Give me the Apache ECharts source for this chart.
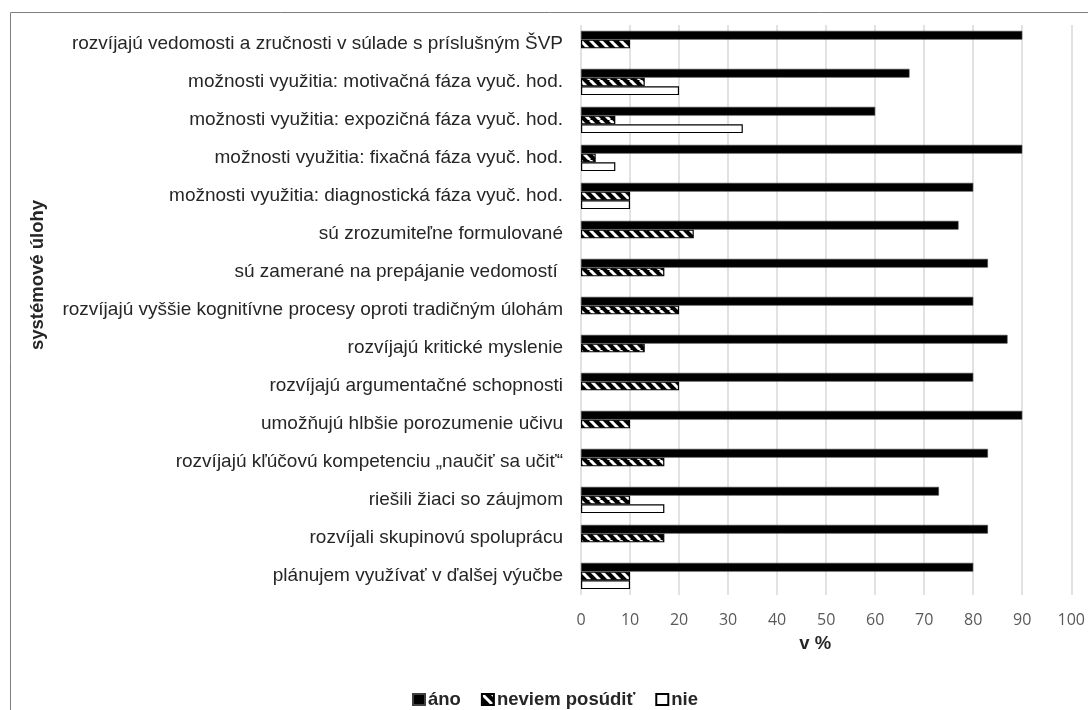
<!DOCTYPE html>
<html>
<head>
<meta charset="utf-8">
<script src="https://cdn.jsdelivr.net/npm/echarts@6/dist/echarts.min.js"></script>
<style>
  html, body { margin: 0; padding: 0; background: #fff; }
  #chart { width: 1088px; height: 710px; }
</style>
</head>
<body>
<div id="chart"></div>
<script>
// categories top to bottom
const categories = [
  'rozvíjajú vedomosti a zručnosti v súlade s príslušným ŠVP',
  'možnosti využitia: motivačná fáza vyuč. hod.',
  'možnosti využitia: expozičná fáza vyuč. hod.',
  'možnosti využitia: fixačná fáza vyuč. hod.',
  'možnosti využitia: diagnostická fáza vyuč. hod.',
  'sú zrozumiteľne formulované',
  'sú zamerané na prepájanie vedomostí ',
  'rozvíjajú vyššie kognitívne procesy oproti tradičným úlohám',
  'rozvíjajú kritické myslenie',
  'rozvíjajú argumentačné schopnosti',
  'umožňujú hlbšie porozumenie učivu',
  'rozvíjajú kľúčovú kompetenciu „naučiť sa učiť“',
  'riešili žiaci so záujmom',
  'rozvíjali skupinovú spoluprácu',
  'plánujem využívať v ďalšej výučbe'
]
const seriesNames = ['áno', 'neviem posúdiť', 'nie']
const ano = [90, 67, 60, 90, 80, 77, 83, 80, 87, 80, 90, 83, 73, 83, 80]
const neviem = [10, 13, 7, 3, 10, 23, 17, 20, 13, 20, 10, 17, 10, 17, 10]
const nie = [0, 20, 33, 7, 10, 0, 0, 0, 0, 0, 0, 0, 17, 0, 10]
const xTicks = [0, 10, 20, 30, 40, 50, 60, 70, 80, 90, 100]

// diagonal hatch for "neviem posúdiť"
function hatch() {
  const c = document.createElement('canvas')
  c.width = 10
  c.height = 10
  const ctx = c.getContext('2d')
  ctx.fillStyle = '#000'
  ctx.fillRect(0, 0, 10, 10)
  ctx.strokeStyle = '#fff'
  ctx.lineWidth = 3
  ctx.beginPath()
  for (let k = -10; k <= 10; k += 10) {
    ctx.moveTo(k, 0)
    ctx.lineTo(k + 10, 10)
  }
  ctx.stroke()
  return c
}

const skipZero = arr => arr.map(v => (v === 0 ? '-' : v))

const chart = echarts.init(document.getElementById('chart'))
chart.setOption({
  animation: false,
  textStyle: { fontFamily: 'Liberation Sans' },
  grid: { left: 581, right: 11, top: 25, bottom: 115 },
  graphic: [
    {
      type: 'rect',
      shape: { x: 10.5, y: 12.5, width: 1100, height: 720 },
      style: { fill: 'none', stroke: '#7f7f7f', lineWidth: 1 },
      silent: true
    },
    {
      type: 'text',
      x: 38,
      y: 275,
      rotation: Math.PI / 2,
      style: {
        text: 'systémové úlohy',
        font: 'bold 18.5px "Liberation Sans"',
        fill: '#262626',
        align: 'center',
        verticalAlign: 'middle'
      }
    }
  ],
  legend: {
    left: 407,
    top: 685,
    icon: 'rect',
    itemWidth: 12,
    itemHeight: 11,
    itemGap: 20,
    selectedMode: false,
    textStyle: { fontWeight: 'bold', fontSize: 18.5, color: '#262626', padding: [0, 0, 0, -2] },
    data: seriesNames
  },
  xAxis: {
    type: 'value',
    min: xTicks[0],
    max: xTicks[xTicks.length - 1],
    interval: 10,
    name: 'v %',
    nameLocation: 'middle',
    nameGap: 39,
    nameTextStyle: { fontWeight: 'bold', fontSize: 18.5, color: '#262626', padding: [0, 22, 0, 0] },
    axisLine: { show: false },
    axisTick: { show: false },
    axisLabel: { fontFamily: 'Open Sans', fontSize: 16, color: '#595959', margin: 17 },
    splitLine: { lineStyle: { color: '#d9d9d9', width: 1.5 } }
  },
  yAxis: {
    type: 'category',
    inverse: true,
    data: categories,
    axisLine: { show: false },
    axisTick: { show: false },
    axisLabel: { fontSize: 19, color: '#262626', margin: 18 }
  },
  series: [
    {
      name: seriesNames[0],
      type: 'bar',
      data: ano,
      barGap: '0%',
      barCategoryGap: '31%',
      itemStyle: { color: '#000', borderColor: '#404040', borderWidth: 0.6 }
    },
    {
      name: seriesNames[1],
      type: 'bar',
      data: neviem,
      itemStyle: { color: { image: hatch(), repeat: 'repeat' }, borderColor: '#000', borderWidth: 1.2 }
    },
    {
      name: seriesNames[2],
      type: 'bar',
      data: skipZero(nie),
      itemStyle: { color: '#fff', borderColor: '#000', borderWidth: 1.2 }
    }
  ]
})
</script>
</body>
</html>
